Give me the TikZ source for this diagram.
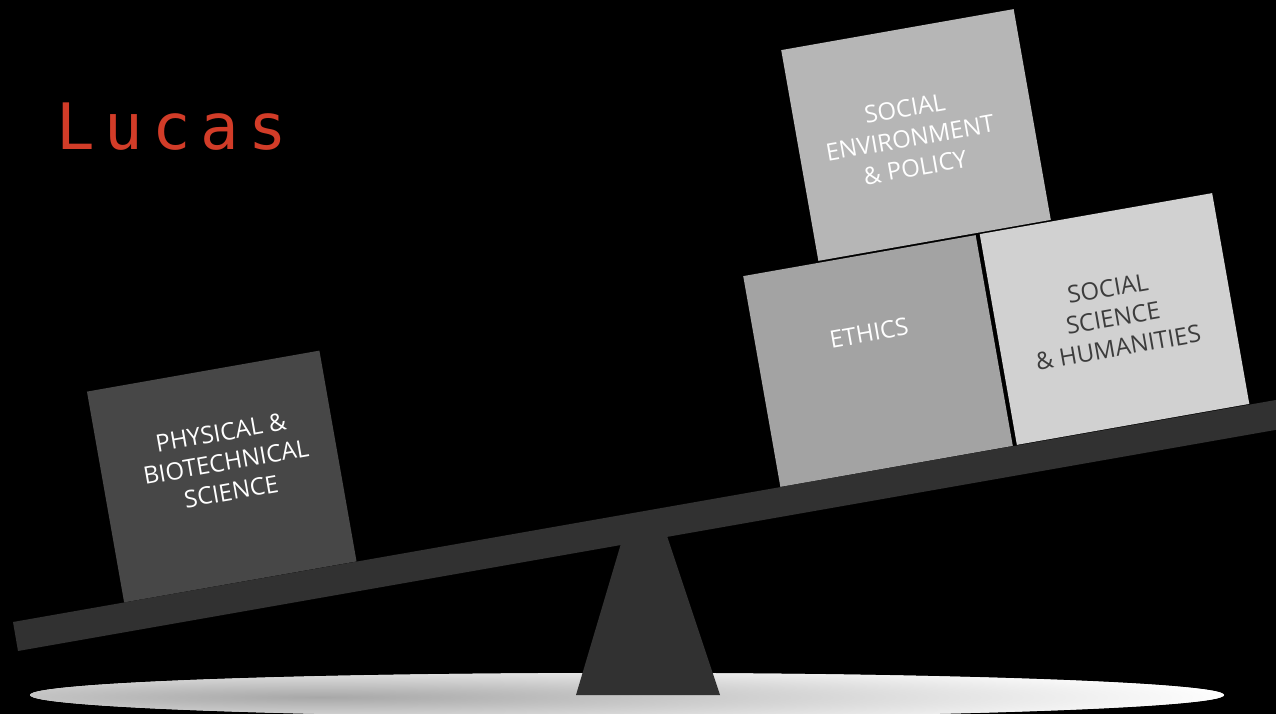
\documentclass[tikz,border=0pt]{standalone}
\usepackage{fontspec}
\setmainfont{Open Sans}
\newfontfamily\lucasfont[LetterSpace=15]{DejaVu Sans Mono}
\definecolor{plankgray}{HTML}{313131}
\definecolor{physgray}{HTML}{474747}
\definecolor{ethicsgray}{HTML}{A3A3A3}
\definecolor{socscigray}{HTML}{D1D1D1}
\definecolor{socenvgray}{HTML}{B6B6B6}
\definecolor{lucasred}{HTML}{D23C28}
\definecolor{darktext}{HTML}{3C3C3C}
\definecolor{spotgray}{HTML}{A8A8A8}
\begin{document}
\begin{tikzpicture}[x=1pt,y=-1pt,
  boxshape/.style={rectangle, minimum width=236pt, minimum height=214pt, rotate=10, inner sep=0pt},
  boxlabel/.style={align=center, rotate=10, font=\fontsize{24}{30}\selectfont, inner sep=0pt},
  woodpart/.style={fill=plankgray}
]
\fill[black] (0,0) rectangle (1276,714);
\useasboundingbox (0,0) rectangle (1276,714);
% spotlight on the floor
\begin{scope}
  \clip (627,695) ellipse [x radius=597pt, y radius=22pt];
  \fill[white] (0,660) rectangle (1276,714);
  \shade[inner color=spotgray, outer color=white] (320,697) ellipse [x radius=920pt, y radius=38pt];
\end{scope}
% fulcrum
\fill[woodpart] (576,695) -- (720,695) -- (665,530) -- (625,530) -- cycle;
% plank
\fill[woodpart] (13,622) -- (1290,397.5) -- (1295,426.5) -- (18,651) -- cycle;
% boxes
\node[boxshape, fill=physgray] (phys) at (221.75,476.5) {};
\node[boxshape, fill=ethicsgray] (ethics) at (878,361) {};
\node[boxshape, fill=socscigray] (socsci) at (1114.5,319) {};
\node[boxshape, fill=socenvgray] (socenv) at (916,135) {};
% labels
\node[boxlabel, text=white] (physlabel) at (226,462) {PHYSICAL \&\\BIOTECHNICAL\\SCIENCE};
\node[boxlabel, text=white] (ethicslabel) at (869,333) {ETHICS};
\node[boxlabel, text=darktext] (socscilabel) at (1113,318) {SOCIAL\\SCIENCE\\\& HUMANITIES};
\node[boxlabel, text=white] (socenvlabel) at (910,138) {SOCIAL\\ENVIRONMENT\\\& POLICY};
% title
\node[anchor=base west, inner sep=0pt, text=lucasred, font={\lucasfont\fontsize{64}{68}\selectfont}] (title) at (56,150) {Lucas};
\end{tikzpicture}
\end{document}
